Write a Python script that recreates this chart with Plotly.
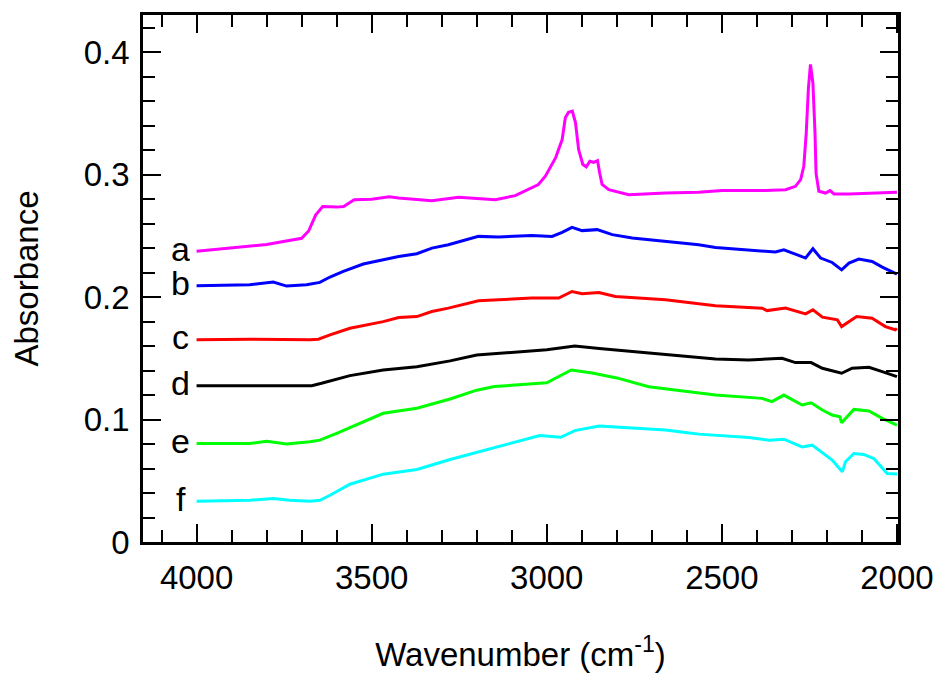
import plotly.graph_objects as go

# ---- data ----
labels = ["a", "b", "c", "d", "e", "f"]
colors = ["#FF00FF", "#0000FF", "#FF0000", "#000000", "#00FF00", "#00FFFF"]

wn_a = [4000, 3900, 3800, 3700, 3680, 3660, 3640, 3600, 3580, 3550, 3500, 3450, 3423, 3328, 3252,
        3147, 3090, 3024, 3004, 2975, 2956, 2947, 2938, 2927, 2918, 2909, 2897, 2887, 2877, 2866,
        2855, 2849, 2842, 2823, 2804, 2766, 2661, 2566, 2499, 2375, 2318, 2290, 2275, 2266, 2259,
        2253, 2247, 2240, 2234, 2231, 2223, 2204, 2191, 2180, 2137, 2042, 2000]
ab_a = [0.2375, 0.240, 0.243, 0.248, 0.254, 0.267, 0.274, 0.2735, 0.274, 0.2795, 0.280, 0.282, 0.281, 0.2788, 0.2815,
        0.2796, 0.2829, 0.2919, 0.2987, 0.3137, 0.3287, 0.3465, 0.351, 0.3519, 0.3426, 0.3205, 0.3083, 0.3064, 0.311, 0.3101,
        0.3115, 0.3015, 0.292, 0.2878, 0.2864, 0.2837, 0.285, 0.2856, 0.287, 0.287, 0.2877, 0.2905, 0.296, 0.3069, 0.3342,
        0.3696, 0.390, 0.375, 0.334, 0.301, 0.2864, 0.285, 0.287, 0.2843, 0.2843, 0.285, 0.2856]

wn_b = [4000, 3848, 3781, 3743, 3686, 3648, 3619, 3581, 3524, 3448, 3423, 3371, 3328, 3281, 3195,
        3138, 3043, 2985, 2956, 2928, 2899, 2856, 2813, 2756, 2709, 2661, 2566, 2518, 2347, 2323,
        2290, 2261, 2240, 2218, 2185, 2158, 2137, 2109, 2071, 2042, 2000]
ab_b = [0.2092, 0.2101, 0.2123, 0.209, 0.2101, 0.212, 0.2164, 0.221, 0.227, 0.2319, 0.2332, 0.2354, 0.240, 0.2428, 0.2496,
        0.2491, 0.2504, 0.2496, 0.2529, 0.257, 0.2543, 0.2551, 0.251, 0.2483, 0.2469, 0.2455, 0.2428, 0.2406, 0.2368, 0.2387,
        0.2354, 0.2319, 0.2395, 0.2319, 0.2283, 0.2223, 0.2278, 0.2311, 0.2291, 0.2245, 0.2188]

wn_c = [4000, 3848, 3676, 3652, 3619, 3562, 3467, 3423, 3371, 3328, 3281, 3195, 3138, 3043, 2966,
        2928, 2899, 2851, 2804, 2709, 2661, 2566, 2518, 2385, 2371, 2318, 2261, 2240, 2213, 2170,
        2158, 2115, 2071, 2033, 2005, 2000]
ab_c = [0.1651, 0.1656, 0.1651, 0.1656, 0.1691, 0.1746, 0.180, 0.1833, 0.1841, 0.1882, 0.191, 0.197, 0.1978, 0.1992, 0.1992,
        0.2046, 0.2027, 0.2038, 0.2005, 0.1983, 0.1978, 0.1945, 0.1929, 0.191, 0.189, 0.191, 0.1863, 0.1896, 0.1836, 0.1814,
        0.1759, 0.1841, 0.1828, 0.1759, 0.1733, 0.1745]

wn_d = [4000, 3757, 3671, 3643, 3562, 3467, 3371, 3276, 3200, 3000, 2920, 2850, 2709, 2518, 2423,
        2328, 2290, 2245, 2213, 2158, 2128, 2080, 2042, 2000]
ab_d = [0.1277, 0.1279, 0.1277, 0.1296, 0.1359, 0.1405, 0.1432, 0.1479, 0.1527, 0.157, 0.160, 0.158, 0.1542, 0.1495, 0.1487,
        0.150, 0.1465, 0.1465, 0.1419, 0.1378, 0.1419, 0.1427, 0.1391, 0.135]

wn_e = [4000, 3848, 3800, 3743, 3676, 3648, 3600, 3562, 3467, 3371, 3276, 3200, 3150, 3000, 2930,
        2870, 2800, 2709, 2518, 2385, 2357, 2323, 2271, 2245, 2213, 2185, 2163, 2158, 2123, 2080,
        2042, 2000]
ab_e = [0.0805, 0.0805, 0.0822, 0.080, 0.0818, 0.0832, 0.0887, 0.0933, 0.1051, 0.1092, 0.1168, 0.124, 0.127, 0.130, 0.1405,
        0.138, 0.134, 0.1268, 0.120, 0.1173, 0.1146, 0.120, 0.1119, 0.1137, 0.1078, 0.1037, 0.1023, 0.0974, 0.1083, 0.107,
        0.101, 0.0955]

wn_f = [4000, 3848, 3781, 3734, 3676, 3648, 3619, 3562, 3467, 3371, 3276, 3200, 3100, 3020, 2960,
        2920, 2851, 2661, 2604, 2566, 2423, 2366, 2323, 2271, 2242, 2185, 2156, 2147, 2123, 2095,
        2066, 2028, 2000]
ab_f = [0.0333, 0.0341, 0.0355, 0.0341, 0.0333, 0.0341, 0.0382, 0.0472, 0.0554, 0.0592, 0.0674, 0.0734, 0.081, 0.087, 0.0855,
        0.091, 0.0947, 0.0914, 0.0895, 0.0881, 0.0854, 0.0832, 0.084, 0.0777, 0.0791, 0.0669, 0.0573, 0.0655, 0.0723, 0.0715,
        0.0682, 0.056, 0.0555]

x_ticks = [4000, 3500, 3000, 2500, 2000]
y_ticks = [0, 0.1, 0.2, 0.3, 0.4]
y_tick_text = ["0", "0.1", "0.2", "0.3", "0.4"]

series = [(wn_a, ab_a), (wn_b, ab_b), (wn_c, ab_c), (wn_d, ab_d), (wn_e, ab_e), (wn_f, ab_f)]

FONT = "Liberation Sans, Arial, sans-serif"
FS = 33

fig = go.Figure()
for (wx, wy), name, col in zip(series, labels, colors):
    fig.add_trace(go.Scatter(x=wx, y=wy, mode="lines", name=name,
                             line=dict(color=col, width=3), showlegend=False))
    fig.add_annotation(x=4045, y=wy[0] + 0.002, text=name, showarrow=False,
                       xanchor="center", yanchor="middle", height=30,
                       font=dict(family=FONT, size=34, color="black"))

axis_common = dict(
    showgrid=False, zeroline=False, showline=True, linecolor="black", linewidth=2.5,
    mirror="ticks", ticks="inside", ticklen=18, tickwidth=2, tickcolor="black",
    tickfont=dict(family=FONT, size=FS, color="black"), automargin=False,
)

fig.update_xaxes(range=[4153, 1997], tickvals=x_ticks, ticktext=[str(v) for v in x_ticks],
                 ticklabelstandoff=5,
                 minor=dict(ticks="inside", ticklen=12, tickwidth=2, tickcolor="black", dtick=100, tick0=2000),
                 title=dict(text="Wavenumber (cm<sup>-1</sup>)", font=dict(family=FONT, size=FS, color="black"), standoff=48),
                 **axis_common)
fig.update_yaxes(range=[0, 0.4304], tickvals=y_ticks, ticktext=y_tick_text,
                 ticklabelstandoff=4,
                 minor=dict(ticks="inside", ticklen=12, tickwidth=2, tickcolor="black", dtick=0.02, tick0=0),
                 title=dict(text="Absorbance", font=dict(family=FONT, size=FS, color="black"), standoff=36),
                 **axis_common)

fig.update_layout(width=937, height=675, margin=dict(l=143, r=39, t=15, b=133),
                  plot_bgcolor="white", paper_bgcolor="white")

fig.write_html(
    "out.html",
    config={"displayModeBar": False},
    post_script=("document.body.style.margin='0px';"
                 "document.body.style.overflow='hidden';"
                 "document.documentElement.style.overflow='hidden';"),
)
